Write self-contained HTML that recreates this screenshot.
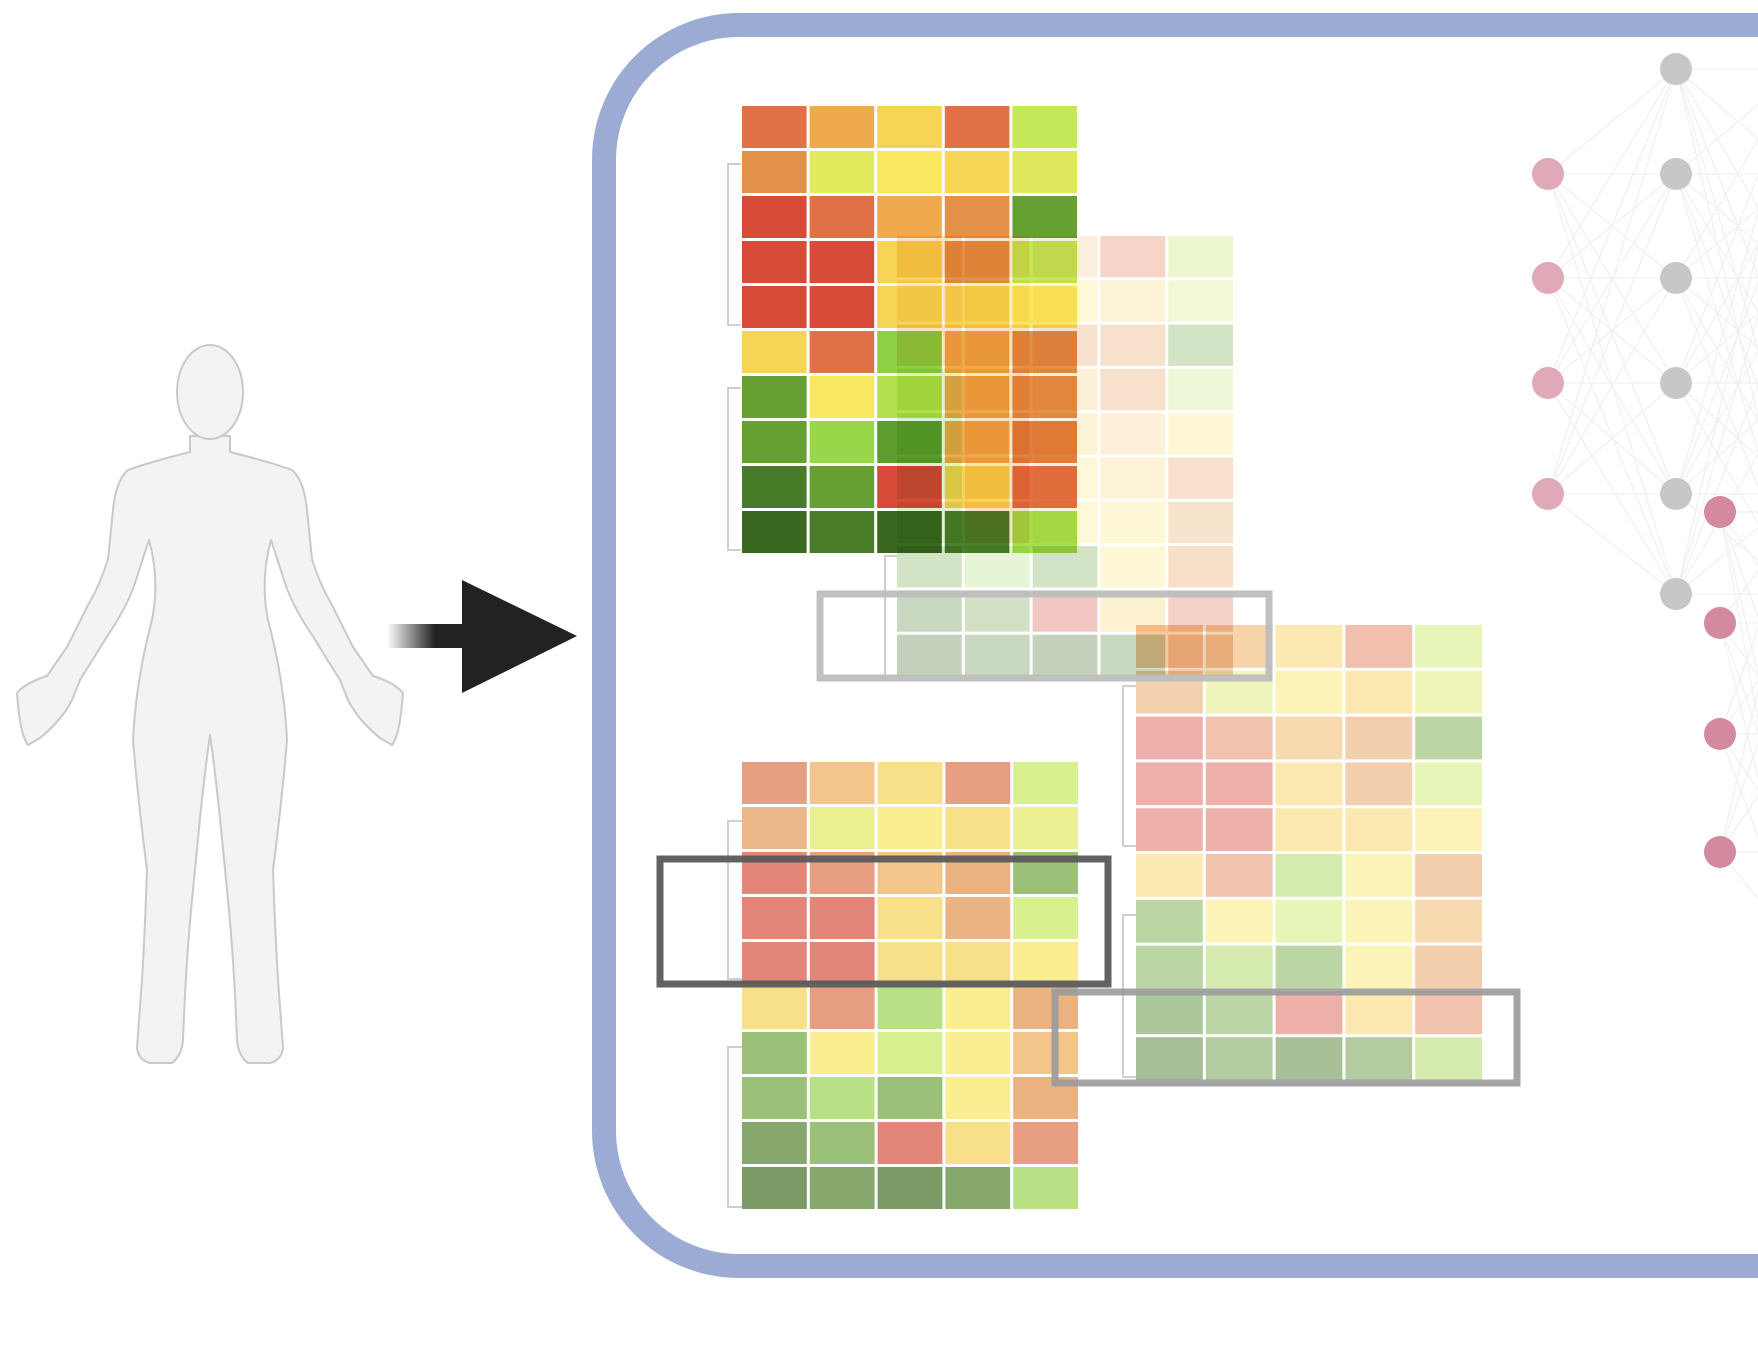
<!DOCTYPE html>
<html><head><meta charset="utf-8"><style>
html,body{margin:0;padding:0;background:#fff;}
svg{display:block;}
</style></head><body>
<svg width="1758" height="1366" viewBox="0 0 1758 1366" xmlns="http://www.w3.org/2000/svg">
<defs>
<linearGradient id="sh" x1="0" x2="1" y1="0" y2="0">
<stop offset="0" stop-color="#222" stop-opacity="0"/>
<stop offset="0.6" stop-color="#222" stop-opacity="1"/>
</linearGradient>
</defs>
<rect width="1758" height="1366" fill="#fff"/>

<!-- human figure -->
<path d="M190,436 L190,452 Q150,462 128,470 Q116,480 113,510 L108,559 Q100,585 88,605 L67,647 L47,676 Q25,683 17,693 Q20,735 28,745 L40,738 Q62,720 72,700 L80,680 L108,635 Q128,605 135,583 L149,540 Q160,580 152,620 Q136,680 133,740 Q138,800 147,870 Q145,930 142,980 L137,1047 Q138,1060 150,1063 L172,1063 Q182,1055 183,1040 Q186,960 192,900 L200,818 Q205,770 210,735 Q215,770 220,818 L228,900 Q234,960 237,1040 Q238,1055 248,1063 L270,1063 Q282,1060 283,1047 L278,980 Q275,930 273,870 Q282,800 287,740 Q284,680 268,620 Q260,580 271,540 L285,583 Q292,605 312,635 L340,680 L348,700 Q358,720 380,738 L392,745 Q400,735 403,693 Q395,683 373,676 L353,647 L332,605 Q320,585 312,559 L307,510 Q304,480 292,470 Q270,462 230,452 L230,436 Z" fill="#f3f3f3" stroke="#c9c9c9" stroke-width="2" stroke-linejoin="round"/>
<ellipse cx="210" cy="392" rx="33" ry="47" fill="#f3f3f3" stroke="#c9c9c9" stroke-width="2"/>

<!-- arrow -->
<rect x="387" y="624" width="80" height="24" fill="url(#sh)"/>
<polygon points="462,580 577,636 462,693" fill="#222"/>

<!-- frame -->
<rect x="604" y="25" width="1400" height="1241" rx="135" ry="135" fill="none" stroke="#9cabd4" stroke-width="24"/>

<!-- network -->
<g stroke="#f0f0f0" stroke-width="1.2" fill="none" id="net"></g>
<g id="nodes"></g>

<!-- dendrograms -->
<g stroke="#cfcfcf" stroke-width="2" fill="none">
<path d="M741,164 H728 V325 H741 M741,388 H728 V550 H741"/>
<path d="M897,556 H885 V676"/>
<path d="M742,821 H728 V979 H742 M742,1047 H728 V1207 H742"/>
<path d="M1136,686 H1123 V846 H1136 M1136,915 H1123 V1077 H1136"/>
</g>

<g id="grids"></g>

<!-- boxes -->
<rect x="820" y="594" width="449" height="84" fill="none" stroke="#bdbdbd" stroke-width="7" opacity="0.95"/>
<rect x="660" y="859" width="448" height="125" fill="none" stroke="#5a5a5a" stroke-width="7" opacity="0.95"/>
<rect x="1055" y="992" width="462" height="91" fill="none" stroke="#9a9a9a" stroke-width="7" opacity="0.9"/>

<script>
var NS="http://www.w3.org/2000/svg";
function grid(x,y,w,h,cols,mode){
  var g=document.getElementById('grids');
  var cw=w/5,ch=h/cols.length;
  cols.forEach(function(row,r){row.forEach(function(c,i){
    var e=document.createElementNS(NS,'rect');
    e.setAttribute('x',x+i*cw);e.setAttribute('y',y+r*ch);
    e.setAttribute('width',cw-3);e.setAttribute('height',ch-3);
    e.setAttribute('fill',c);
    if(mode) e.setAttribute('style','mix-blend-mode:multiply');
    g.appendChild(e);
  });});
}
grid(742,106,338,450,[
["#e07045","#eeaa4d","#f6d456","#e07045","#c4e858"],
["#e39048","#e2ea5e","#f9e762","#f7d556","#dfe85c"],
["#d84b38","#e07045","#eeaa4d","#e39048","#66a032"],
["#d84b38","#d84b38","#f6d456","#e39048","#c4e858"],
["#d84b38","#d84b38","#f6d456","#f6d456","#f9e762"],
["#f6d456","#e07045","#8cd143","#eeaa4d","#e39048"],
["#66a032","#f9e762","#b3e14e","#eeaa4d","#e39048"],
["#66a032","#99d74a","#5d9c2f","#eeaa4d","#e08040"],
["#477d29","#66a032","#d84b38","#f6d456","#e07045"],
["#3a6820","#4b7e2a","#3a6820","#4b7e2a","#a4de4e"]],false);
grid(897,236,339,443,[
["#fbe3c0","#fbe8c8","#fbeede","#f6d4c8","#edf7cf"],
["#fbeed0","#fdf2c8","#fef7d8","#fdf3d6","#f3f8d6"],
["#fbe3c0","#fbe3c0","#f9e2d0","#f7e0cc","#d3e3c6"],
["#e5f0c8","#fbe3c0","#fdf0d8","#f7e0cc","#eef8d8"],
["#e0f0c8","#fbe3c0","#fdf3d6","#fdf0d8","#fdf7d8"],
["#e0f0d0","#fbe3c0","#fef8d8","#fdf3d6","#f8e0cc"],
["#e5f0d0","#fbe3c0","#fef8d8","#fdf7d5","#f8e3cc"],
["#d3e3c6","#e5f5d5","#d3e3c6","#fdf7d5","#f8dfc8"],
["#c9d8c0","#d3e0c6","#f2c6c2","#fdf2d0","#f4d3c6"],
["#c4d1bd","#c9d8c0","#c4d1bd","#c9d8c0","#f0d3b8"]],true);
grid(742,762,339,450,[
["#e89e80","#f4c58a","#f8df8a","#e89e80","#d8f08f"],
["#ebb789","#eaf08f","#fbee90","#f8df8a","#ebf092"],
["#e38679","#e89e80","#f4c58a","#ebb282","#9bc077"],
["#e38679","#e38679","#f8df8a","#ebb282","#d8f08f"],
["#e38679","#e38679","#f8df8a","#f8df8a","#fbee90"],
["#f8df8a","#e89e80","#b8e084","#fbee90","#ebb282"],
["#9bc077","#fbee90","#d8f08f","#fbee90","#f4c58a"],
["#9bc077","#b8e084","#9bc077","#fbee90","#ebb282"],
["#86a86d","#9bc077","#e38679","#f8df8a","#e89e80"],
["#7a9a66","#86a86d","#7a9a66","#86a86d","#b8e084"]],false);
grid(1136,625,349,458,[
["#f5c79e","#f6d3a8","#fbe9b1","#f1bfae","#e8f5b8"],
["#f3d0ae","#eff5bb","#fbf3b8","#fbe9b1","#f0f5b8"],
["#eeb0aa","#f1c2ae","#f8dab0","#f4cfae","#bcd5a5"],
["#eeb0aa","#eeb0aa","#fbe9b1","#f4cfae","#e8f5b8"],
["#eeb0aa","#eeb0aa","#fbe9b1","#fbe9b1","#fbf3b8"],
["#fbe9b1","#f1c2ae","#d5ebb0","#fbf3b8","#f4cfae"],
["#bcd5a5","#fbf3b8","#e8f5b8","#fbf3b8","#f8dab0"],
["#bcd5a5","#d5ebb0","#bcd5a5","#fbf3b8","#f4cfae"],
["#adc79c","#bcd5a5","#eeb0aa","#fbe9b1","#f1c2ae"],
["#a6bd96","#b2cb9f","#a8bf98","#b2cb9f","#d5ebb0"]],true);

var net=document.getElementById('net'),nodes=document.getElementById('nodes');
var L1=[174,278,383,494],L2=[69,174,278,383,494,594],L3=[512,623,734,852];
function line(x1,y1,x2,y2){var e=document.createElementNS(NS,'line');e.setAttribute('x1',x1);e.setAttribute('y1',y1);e.setAttribute('x2',x2);e.setAttribute('y2',y2);net.appendChild(e);}
L1.forEach(function(a){L2.forEach(function(b){line(1548,a,1676,b);});});
L2.forEach(function(a){[69,174,278,383,494,594].forEach(function(b){line(1676,a,1800,b);});});
L3.forEach(function(a){[512,623,734,852,950].forEach(function(b){line(1720,a,1800,b);});});
function node(x,y,c){var e=document.createElementNS(NS,'ellipse');e.setAttribute('cx',x);e.setAttribute('cy',y);e.setAttribute('rx',16);e.setAttribute('ry',16);e.setAttribute('fill',c);nodes.appendChild(e);}
L1.forEach(function(y){node(1548,y,'#e0a9b8');});
L2.forEach(function(y){node(1676,y,'#c7c7c7');});
L3.forEach(function(y){node(1720,y,'#d48a9e');});
</script>
</svg>
</body></html>
